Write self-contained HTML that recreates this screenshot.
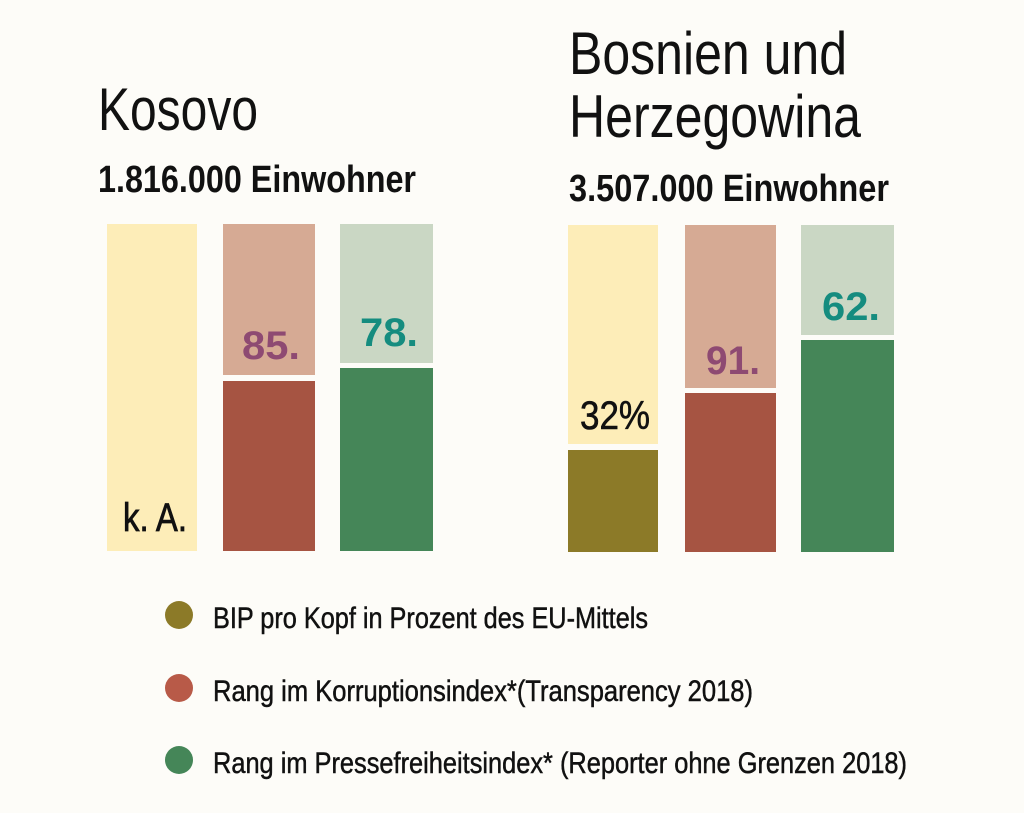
<!DOCTYPE html>
<html><head><meta charset="utf-8"><style>
html,body{margin:0;padding:0;background:#fdfcf8;}
svg{display:block}
text{font-family:"Liberation Sans Narrow","Liberation Sans",sans-serif;}
</style></head><body>
<svg width="1024" height="813" viewBox="0 0 1024 813" xmlns="http://www.w3.org/2000/svg">
<rect width="1024" height="813" fill="#fdfcf8"/>
<text x="98" y="130" font-size="60" textLength="160" lengthAdjust="spacingAndGlyphs" fill="#111">Kosovo</text>
<text x="98" y="192" font-size="38" font-weight="bold" textLength="318" lengthAdjust="spacingAndGlyphs" fill="#111">1.816.000 Einwohner</text>
<text x="569" y="74" font-size="60" textLength="278" lengthAdjust="spacingAndGlyphs" fill="#111">Bosnien und</text>
<text x="569" y="137" font-size="60" textLength="292" lengthAdjust="spacingAndGlyphs" fill="#111">Herzegowina</text>
<text x="569" y="201" font-size="38" font-weight="bold" textLength="320" lengthAdjust="spacingAndGlyphs" fill="#111">3.507.000 Einwohner</text>
<rect x="107" y="224" width="90" height="327" fill="#fdedb8"/>
<rect x="223" y="224" width="92" height="151" fill="#d6aa94"/>
<rect x="223" y="381" width="92" height="170" fill="#a65442"/>
<rect x="340" y="224" width="93" height="139" fill="#cad7c4"/>
<rect x="340" y="368" width="93" height="183" fill="#458658"/>
<text x="123" y="531" font-size="40" textLength="64" lengthAdjust="spacingAndGlyphs" fill="#111" stroke="#111" stroke-width="0.8">k. A.</text>
<text x="242" y="359" font-size="40" font-weight="bold" textLength="58" lengthAdjust="spacingAndGlyphs" fill="#8e4a72">85.</text>
<text x="360" y="346" font-size="40" font-weight="bold" textLength="58" lengthAdjust="spacingAndGlyphs" fill="#158c7f">78.</text>
<rect x="568" y="225" width="90" height="219" fill="#fdedb8"/>
<rect x="568" y="450" width="90" height="102" fill="#8c7a28"/>
<rect x="685" y="225" width="91" height="163" fill="#d6aa94"/>
<rect x="685" y="393" width="91" height="159" fill="#a65442"/>
<rect x="801" y="225" width="93" height="110" fill="#cad7c4"/>
<rect x="801" y="340" width="93" height="212" fill="#458658"/>
<text x="580" y="429" font-size="40" textLength="70" lengthAdjust="spacingAndGlyphs" fill="#111" stroke="#111" stroke-width="0.6">32%</text>
<text x="706" y="374" font-size="40" font-weight="bold" textLength="54" lengthAdjust="spacingAndGlyphs" fill="#8e4a72">91.</text>
<text x="822" y="320" font-size="40" font-weight="bold" textLength="58" lengthAdjust="spacingAndGlyphs" fill="#158c7f">62.</text>
<circle cx="179" cy="615" r="14" fill="#8c7a28"/>
<circle cx="179" cy="688" r="14" fill="#b85a48"/>
<circle cx="179" cy="760" r="14" fill="#458658"/>
<g fill="#111" stroke="#111" stroke-width="0.5">
<text x="213" y="628" font-size="30" textLength="435" lengthAdjust="spacingAndGlyphs">BIP pro Kopf in Prozent des EU-Mittels</text>
<text x="213" y="701" font-size="30" textLength="540" lengthAdjust="spacingAndGlyphs">Rang im Korruptionsindex*(Transparency 2018)</text>
<text x="213" y="773" font-size="30" textLength="694" lengthAdjust="spacingAndGlyphs">Rang im Pressefreiheitsindex* (Reporter ohne Grenzen 2018)</text>
</g>
</svg>
</body></html>
